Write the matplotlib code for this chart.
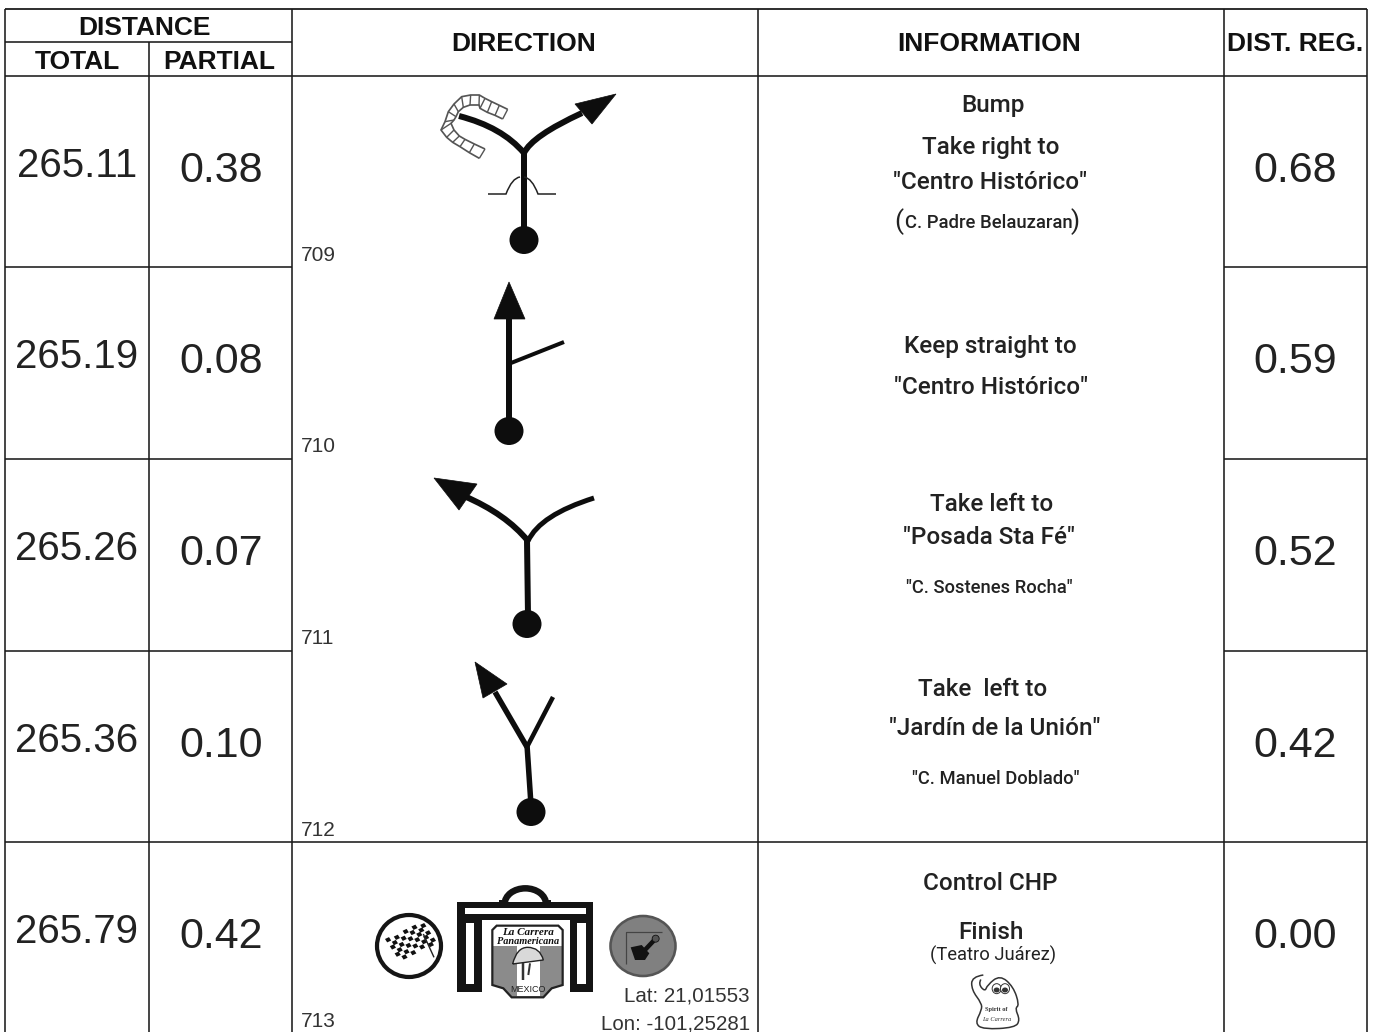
import numpy as np
import matplotlib
matplotlib.use("Agg")
import matplotlib.pyplot as plt
from matplotlib.path import Path
from matplotlib.patches import PathPatch, Polygon, Circle, Ellipse, Rectangle, Arc

# ---- data ----
totals = ["265.11", "265.19", "265.26", "265.36", "265.79"]
partials = ["0.38", "0.08", "0.07", "0.10", "0.42"]
regs = ["0.68", "0.59", "0.52", "0.42", "0.00"]
ids = ["709", "710", "711", "712", "713"]
info_lines = [
    ["Bump", "Take right to", '"Centro Histórico"', "C. Padre Belauzaran"],
    ["Keep straight to", '"Centro Histórico"'],
    ["Take left to", '"Posada Sta Fé"', '"C. Sostenes Rocha"'],
    ["Take  left to", '"Jardín de la Unión"', '"C. Manuel Doblado"'],
    ["Control CHP", "Finish", "(Teatro Juárez)"],
]
lat_lon = ["Lat: 21,01553", "Lon: -101,25281"]

W, H = 1375, 1032
fig = plt.figure(figsize=(W / 100, H / 100), dpi=100, facecolor="white")
ax = fig.add_axes([0, 0, 1, 1])
ax.set_xlim(0, W)
ax.set_ylim(H, 0)
ax.axis("off")

ARIAL = "Liberation Sans"
INFO = "Roboto"
INK = "#1c1c1c"
PX = 0.72


def line(xs, ys, lw=1.5, c=INK, cap="butt", z=3):
    ax.plot(xs, ys, color=c, lw=lw * PX, solid_capstyle=cap, solid_joinstyle="round", zorder=z)


def curve(p0, ctrl, p1, lw=6, c="#0d0d0d"):
    path = Path([p0, ctrl, p1], [Path.MOVETO, Path.CURVE3, Path.CURVE3])
    ax.add_patch(PathPatch(path, fc="none", ec=c, lw=lw * PX, capstyle="butt", zorder=4))


def head(*pts):
    ax.add_patch(Polygon(pts, closed=True, fc="#0d0d0d", ec="#0d0d0d", lw=0.5, zorder=4))


def dot(x, y, r=14):
    ax.add_patch(Ellipse((x, y), 2 * r + 1, 2 * r, fc="#0d0d0d", ec="none", zorder=4))


def smooth(pts):
    """Open quadratic spline through the midpoints of a control polygon."""
    verts = [pts[0]]
    codes = [Path.MOVETO]
    for k in range(1, len(pts) - 1):
        mid = ((pts[k][0] + pts[k + 1][0]) / 2, (pts[k][1] + pts[k + 1][1]) / 2)
        verts += [pts[k], mid]
        codes += [Path.CURVE3, Path.CURVE3]
    return Path(verts, codes)


# ---- grid ----
for x, y0, y1 in [(5, 9, H), (149, 42, H), (292, 9, H), (758, 9, H), (1224, 9, H), (1367, 9, H)]:
    line([x, x], [y0, y1], 1.6)
line([5, 1367], [9, 9], 1.8)
line([5, 292], [42, 42], 1.6)
line([5, 1367], [76, 76], 1.6)
for y in [267, 459, 651]:
    line([5, 292], [y, y], 1.6)
    line([1224, 1367], [y, y], 1.6)
line([5, 1367], [842, 842], 1.6)

# ---- headers ----
hdr = dict(family=ARIAL, weight="bold", ha="center", va="center", color="#111111", fontsize=19)
ax.text(145, 28, "DISTANCE", **hdr)
ax.text(77, 62, "TOTAL", **hdr)
ax.text(219, 62, "PARTIAL", **hdr)
ax.text(524, 44, "DIRECTION", **hdr)
ax.text(989, 44, "INFORMATION", **hdr)
ax.text(1295, 44, "DIST. REG.", **hdr)

# ---- numeric columns ----
row_tops = [76, 267, 459, 651, 842]
for i, top in enumerate(row_tops):
    ax.text(77, top + 101, totals[i], family=ARIAL, fontsize=29, ha="center", va="baseline", color="#222222")
    ax.text(221, top + 106, partials[i], family=ARIAL, fontsize=31, ha="center", va="baseline", color="#222222")
    ax.text(1295, top + 106, regs[i], family=ARIAL, fontsize=31, ha="center", va="baseline", color="#222222")
    ax.text(301, top + 185, ids[i], family=ARIAL, fontsize=15, ha="left", va="baseline", color="#333333")


# ---- information ----
def info(x, y, s, size, weight=500):
    ax.text(x, y, s, family=INFO, fontsize=size, ha="center", va="baseline", color="#222222", fontweight=weight)


info(993, 112, info_lines[0][0], 17.5)
info(991, 154, info_lines[0][1], 17.5)
info(990, 189, info_lines[0][2], 17.5)
info(989, 228, info_lines[0][3], 13.3)
ax.text(899, 229, "(", family=INFO, fontsize=19, ha="center", va="baseline", color="#222222")
ax.text(1075, 229, ")", family=INFO, fontsize=19, ha="center", va="baseline", color="#222222")
info(990, 353, info_lines[1][0], 17.5)
info(991, 394, info_lines[1][1], 17.5)
info(992, 511, info_lines[2][0], 17.5)
info(989, 544, info_lines[2][1], 17.5)
info(989, 593, info_lines[2][2], 13.2)
info(983, 696, info_lines[3][0], 17.5)
info(995, 735, info_lines[3][1], 17.5)
info(996, 784, info_lines[3][2], 13.2)
info(990, 890, info_lines[4][0], 17.5)
info(991, 939, info_lines[4][1], 17.5)
info(993, 961, info_lines[4][2], 13.2, 400)

# ---- glyph 709 ----
line([524, 524], [152, 230], 6, "#0d0d0d", z=4)
dot(524, 240)
curve((524, 153), (502, 127), (459, 116))
curve((524, 153), (532, 136), (582, 113))
head((616, 94), (575, 104), (592, 124))
bump_l = Path([(488, 194), (506, 194), (512, 178), (520, 177)], [Path.MOVETO, Path.LINETO, Path.CURVE3, Path.CURVE3])
bump_r = Path([(556, 194), (538, 194), (532, 178), (524, 177)], [Path.MOVETO, Path.LINETO, Path.CURVE3, Path.CURVE3])
for p in (bump_l, bump_r):
    ax.add_patch(PathPatch(p, fc="none", ec="#222222", lw=1.1, zorder=4))
outer = [(383, 88), (358, 76), (335, 65), (315, 55), (298, 45), (272, 45), (245, 50), (222, 72), (205, 95),
         (195, 125), (183, 150), (200, 172), (218, 187), (240, 200), (268, 218), (298, 235)]
inner = [(368, 117), (345, 106), (322, 97), (300, 85), (297, 75), (270, 75), (250, 82), (235, 95), (228, 110),
         (222, 120), (213, 130), (222, 150), (238, 168), (255, 178), (283, 192), (315, 207)]
ox = [380 + a / 3 for a, _ in outer]; oy = [80 + b / 3 for _, b in outer]
ix = [380 + a / 3 for a, _ in inner]; iy = [80 + b / 3 for _, b in inner]
line(ox, oy, 1.7, "#555555")
line(ix, iy, 1.7, "#555555")
for a, b, c, d in zip(ox, oy, ix, iy):
    line([a, c], [b, d], 1.4, "#555555")

# ---- glyph 710 ----
line([509, 509], [315, 420], 6, "#0d0d0d", z=4)
head((509, 282), (494, 319), (525, 319))
dot(509, 431)
line([511, 564], [363, 342], 4, "#0d0d0d", z=4)

# ---- glyph 711 ----
line([527, 528], [540, 615], 6, "#0d0d0d", z=4)
dot(527, 624)
curve((528, 541), (506, 514), (464, 496))
curve((528, 541), (540, 515), (594, 498), lw=5)
head((434, 478), (477, 484), (459, 510))

# ---- glyph 712 ----
line([527, 531], [745, 805], 5.5, "#0d0d0d", z=4)
dot(531, 812)
line([527, 495], [747, 692], 5.5, "#0d0d0d", z=4)
line([527, 553], [747, 697], 4.5, "#0d0d0d", z=4)
head((475, 662), (507, 684), (483, 698))


# ---- finish emblem ----
def zx(v): return 360 + v / 3
def zy(v): return 860 + v / 3


ax.add_patch(Ellipse((409, 946), 64, 62, fc="white", ec="#151515", lw=4.2 * PX, zorder=4))
fu = np.arange(9)
fv = np.arange(6)
for u in fu:
    for v in fv:
        if (u + v) % 2 == 0:
            cx = 385 + u * 4.4 + v * 2.4
            cy = 939 + v * 3.6 - u * 1.9 + 1.4 * np.sin(u * 0.9)
            ax.add_patch(Polygon([(cx, cy), (cx + 4.0, cy - 1.9), (cx + 6.2, cy + 1.5), (cx + 2.2, cy + 3.4)],
                                 fc="#111111", ec="none", zorder=5))
line([zx(190), zx(222)], [zy(222), zy(292)], 1.4, "#222222", z=5)

bld = "#141414"
ax.add_patch(Rectangle((zx(292), zy(125)), (700 - 292) / 3, (180 - 125) / 3, fc=bld, ec="none", zorder=4))
ax.add_patch(Rectangle((zx(292), zy(125)), (365 - 292) / 3, (395 - 125) / 3, fc=bld, ec="none", zorder=4))
ax.add_patch(Rectangle((zx(630), zy(125)), 70 / 3, (395 - 125) / 3, fc=bld, ec="none", zorder=4))
ax.add_patch(Rectangle((zx(315), zy(145)), (678 - 315) / 3, 17 / 3, fc="white", ec="none", zorder=5))
ax.add_patch(Rectangle((zx(317), zy(190)), 26 / 3, (372 - 190) / 3, fc="white", ec="none", zorder=5))
ax.add_patch(Rectangle((zx(652), zy(190)), 26 / 3, (372 - 190) / 3, fc="white", ec="none", zorder=5))
ax.add_patch(Arc((zx(496), zy(132)), 2 * 62 / 3, 2 * 47 / 3, theta1=180, theta2=360, ec=bld, lw=6.5 * PX, zorder=4))
line([zx(418), zx(440)], [zy(130), zy(130)], 6, bld, z=4)
line([zx(552), zx(574)], [zy(130), zy(130)], 6, bld, z=4)

shield = [(zx(410), zy(197)), (zx(595), zy(197)), (zx(608), zy(210)), (zx(608), zy(375)), (zx(575), zy(385)),
          (zx(550), zy(412)), (zx(455), zy(412)), (zx(430), zy(385)), (zx(397), zy(375)), (zx(397), zy(210))]
ax.add_patch(Polygon(shield, closed=True, fc="#8b8b8b", ec="none", zorder=6))
ax.add_patch(Polygon([shield[0], shield[1], shield[2], (zx(608), zy(258)), (zx(397), zy(258)), shield[-1]],
                     closed=True, fc="white", ec="none", zorder=6.5))
ax.add_patch(Rectangle((zx(470), zy(258)), 70 / 3, 150 / 3, fc="white", ec="none", zorder=6.5))
ax.add_patch(Polygon(shield, closed=True, fc="none", ec="#222222", lw=1.6, zorder=7))
ax.text(zx(503), zy(217), "La Carrera", family="Liberation Serif", style="italic", weight="bold", fontsize=8,
        ha="center", va="center", color="#111111", zorder=8)
ax.text(zx(503), zy(243), "Panamericana", family="Liberation Serif", style="italic", weight="bold", fontsize=7.4,
        ha="center", va="center", color="#111111", zorder=8)
umb = Path([(zx(458), zy(312)), (zx(470), zy(262)), (zx(503), zy(262)), (zx(540), zy(262)), (zx(550), zy(300)), (zx(458), zy(312))],
           [Path.MOVETO, Path.CURVE3, Path.CURVE3, Path.CURVE3, Path.CURVE3, Path.LINETO])
ax.add_patch(PathPatch(umb, fc="#d9d9d9", ec="#222222", lw=1, zorder=8))
line([zx(490), zx(490)], [zy(310), zy(360)], 2.5, "#333333", z=8)
line([zx(510), zx(505)], [zy(310), zy(345)], 2, "#333333", z=8)
ax.text(zx(503), zy(388), "MEXICO", family=ARIAL, fontsize=6.5, ha="center", va="center", color="#222222", zorder=8)

ax.add_patch(Ellipse((643, 946), 65, 60, fc="#808080", ec="#555555", lw=2.6 * PX, zorder=4))
line([zx(798), zx(798), zx(905)], [zy(312), zy(215), zy(215)], 1.2, "#444444", z=5)
line([zx(885), zx(850)], [zy(238), zy(275)], 4.5, "#111111", z=5)
ax.add_patch(Circle((zx(887), zy(236)), 3.5, fc="#555555", ec="#111111", lw=0.6, zorder=5))
ax.add_patch(Polygon([(zx(812), zy(262)), (zx(845), zy(255)), (zx(868), zy(280)), (zx(855), zy(300)), (zx(825), zy(300))],
                     closed=True, fc="#111111", ec="none", zorder=5))

for j, s in enumerate(lat_lon):
    ax.text(750, 1002 + j * 27, s, family=ARIAL, fontsize=14.8, ha="right", va="baseline", color="#333333", zorder=9)

# ---- ghost ----
gx = lambda v: 900 + v / 3
gy = lambda v: 860 + v / 3
ghost = [(250, 345), (215, 350), (215, 390), (245, 430), (245, 450), (225, 490), (250, 508), (345, 503), (360, 480),
         (345, 445), (358, 435), (340, 380), (300, 345), (262, 375), (255, 395), (235, 372), (250, 345)]
ax.add_patch(PathPatch(smooth([(gx(a), gy(b)) for a, b in ghost]), fc="none", ec="#333333", lw=1.1, zorder=4))
for a in (290, 315):
    ax.add_patch(Ellipse((gx(a), gy(386)), 9, 10, fc="white", ec="#333333", lw=0.7, zorder=5))
    ax.add_patch(Ellipse((gx(a), gy(390)), 6, 5, fc="#333333", ec="none", zorder=6))
ax.text(gx(288), gy(450), "Spirit of", family="Liberation Serif", weight="bold", fontsize=4.6, ha="center", va="center", color="#333333")
ax.text(gx(290), gy(478), "La Carrera", family="Liberation Serif", style="italic", fontsize=4.6, ha="center", va="center", color="#333333")

fig.savefig("out.png", dpi=100, facecolor="white")
